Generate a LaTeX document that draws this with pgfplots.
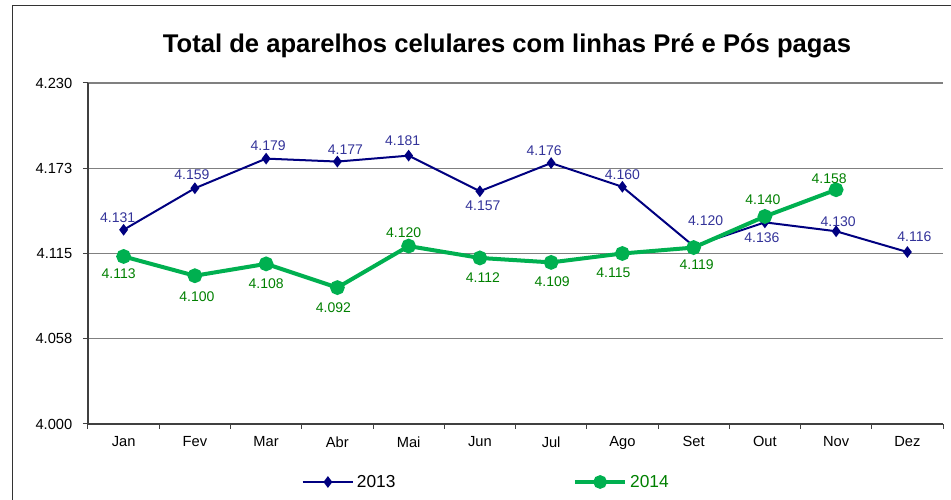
\documentclass[border=0pt]{standalone}
\usepackage{fontspec}
\setmainfont{Liberation Sans}
\usepackage{pgfplots}
\pgfplotsset{compat=1.18}
\usepackage{pgfplotstable}
\definecolor{navy13}{RGB}{0,0,128}
\definecolor{lab13}{RGB}{51,51,153}
\definecolor{green14}{RGB}{0,176,80}
\definecolor{lab14}{RGB}{0,128,0}

\pgfplotstableread{
xx yy sx sy
1 4.131 -6 12
2 4.159 -3 14
3 4.179 2 13
4 4.177 8 12
5 4.181 -6 15
6 4.157 3 -15
7 4.176 -7 12
8 4.160 0 12
9 4.120 12 25
10 4.136 -3 -15
11 4.130 2 10
12 4.116 7 15
}\dataA

\pgfplotstableread{
xx yy sx sy
1 4.113 -5 -17
2 4.100 2 -21
3 4.108 0 -20
4 4.092 -4 -20
5 4.120 -5 13
6 4.112 3 -20
7 4.109 1 -19
8 4.115 -9 -19
9 4.119 3 -17
10 4.140 -2 17
11 4.158 -7 11
}\dataB

\begin{document}
\begin{tikzpicture}[x=1pt,y=1pt]
\path[use as bounding box] (0,0) rectangle (713.25,375);
\draw[line width=0.75pt, black!80] (9,-20) -- (9,370.5) -- (760,370.5);
\node[font=\fontsize{19.2}{22}\selectfont\bfseries, anchor=base] at (380.25,335.25) {Total de aparelhos celulares com linhas Pré e Pós pagas};
\begin{axis}[
  at={(66pt,57pt)}, anchor=south west,
  scale only axis, width=641.25pt, height=255.75pt,
  xmin=0.5, xmax=12.5, ymin=4, ymax=4.23,
  axis lines*=left,
  axis line style={black!75, line width=1pt},
  xtick={0.5,1.5,...,12.5},
  xticklabels={Jan,Fev,Mar,Abr,Mai,Jun,Jul,Ago,Set,Out,Nov,Dez},
  x tick label as interval,
  ytick={4,4.0575,4.115,4.1725,4.23},
  yticklabels={4.000,4.058,4.115,4.173,4.230},
  tick align=outside, major tick length=3.75pt,
  tick style={black!75, line width=0.75pt},
  ymajorgrids, grid style={black!50, line width=1.1pt},
  tick label style={font=\fontsize{11}{13}\selectfont},
  yticklabel style={xshift=-4.5pt},
  xticklabel style={yshift=-2.25pt},
  clip=false,
  /pgf/number format/fixed, /pgf/number format/fixed zerofill,
  /pgf/number format/precision=3, /pgf/number format/assume math mode=true,
  legend columns=2,
  legend style={draw=none, fill=none, at={(rel axis cs:0.2526,0)}, anchor=west,
    xshift=-5pt, yshift=-43.5pt, font=\fontsize{13}{15}\selectfont,
    /tikz/every even column/.append style={column sep=131pt}},
  legend image code/.code={\draw[mark repeat=2,mark phase=2,#1] plot coordinates {(0pt,0pt) (19pt,0pt) (38pt,0pt)};},
]
\addlegendimage{navy13, line width=1.5pt, mark=diamond*, mark size=3.2pt, mark options={solid}}
\addlegendentry{2013}
\addlegendimage{green14, line width=3pt, mark=*, mark size=3.6pt, mark options={solid}}
\addlegendentry{\textcolor{lab14}{2014}}
\addplot[forget plot, navy13, line width=1.5pt, mark=diamond*, mark size=3.2pt, mark options={solid},
  nodes near coords, point meta=\thisrow{yy},
  visualization depends on={\thisrow{sx} \as \shx},
  visualization depends on={\thisrow{sy} \as \shy},
  nodes near coords style={anchor=center, xshift=\shx*0.75pt, yshift=\shy*0.75pt, text=lab13, font=\fontsize{10.5}{12}\selectfont}]
  table[x=xx,y=yy] {\dataA};
\addplot[forget plot, green14, line width=3pt, mark=*, mark size=4pt, mark options={solid},
  nodes near coords, point meta=\thisrow{yy},
  visualization depends on={\thisrow{sx} \as \shx},
  visualization depends on={\thisrow{sy} \as \shy},
  nodes near coords style={anchor=center, xshift=\shx*0.75pt, yshift=\shy*0.75pt, text=lab14, font=\fontsize{10.5}{12}\selectfont}]
  table[x=xx,y=yy] {\dataB};
\end{axis}
\end{tikzpicture}
\end{document}
